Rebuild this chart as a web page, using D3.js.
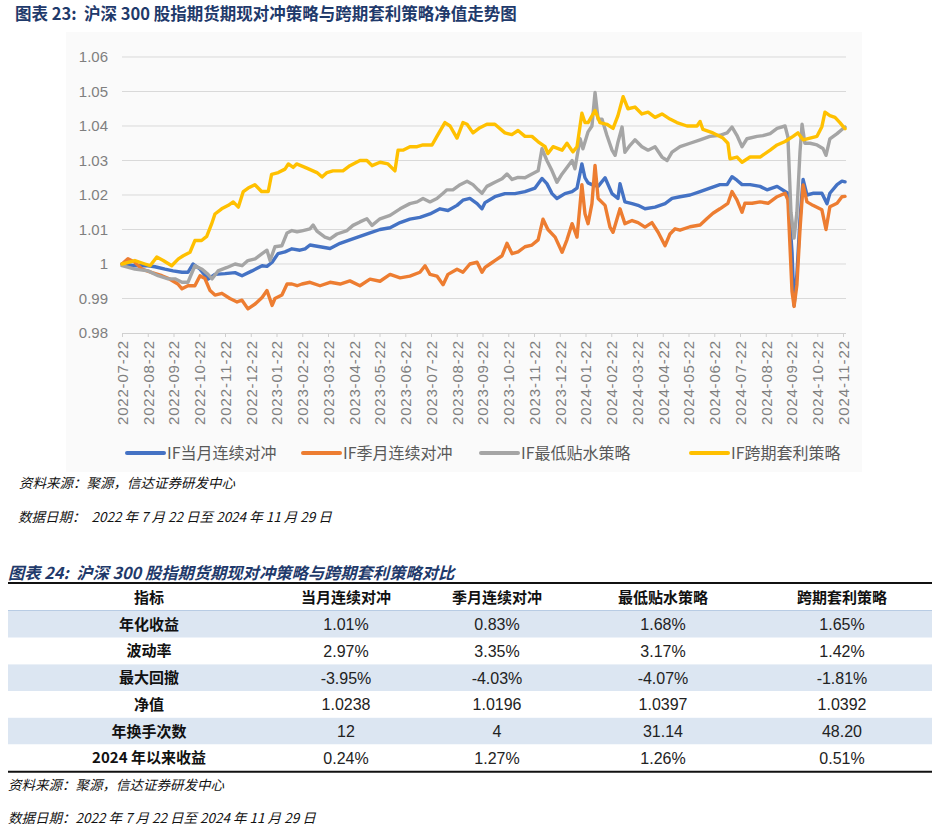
<!DOCTYPE html>
<html><head><meta charset="utf-8">
<script src="https://cdn.jsdelivr.net/npm/d3@7/dist/d3.min.js"></script>
<style>
html,body{margin:0;padding:0;background:#fff;}
svg{display:block;}
text{white-space:pre;}
</style></head>
<body>
<svg id="c" width="945" height="829"></svg>
<script>
// ---------- DATA ----------
const xTickLabels = ["2022-07-22","2022-08-22","2022-09-22","2022-10-22","2022-11-22","2022-12-22",
 "2023-01-22","2023-02-22","2023-03-22","2023-04-22","2023-05-22","2023-06-22","2023-07-22","2023-08-22",
 "2023-09-22","2023-10-22","2023-11-22","2023-12-22","2024-01-22","2024-02-22","2024-03-22","2024-04-22",
 "2024-05-22","2024-06-22","2024-07-22","2024-08-22","2024-09-22","2024-10-22","2024-11-22"];
const yTickValues = [0.98,0.99,1.00,1.01,1.02,1.03,1.04,1.05,1.06];
const yTickLabels = ["0.98","0.99","1","1.01","1.02","1.03","1.04","1.05","1.06"];
const seriesNames = ["IF当月连续对冲","IF季月连续对冲","IF最低贴水策略","IF跨期套利策略"];
const seriesColors = ["#4472C4","#ED7D31","#A5A5A5","#FFC000"];

// [months since 2022-07-22, net value]
const monthlyHedge = [[0,1.000],[0.50,0.9995],[1.01,0.9995],[1.28,0.9992],[1.67,0.9985],[1.98,0.998],[2.33,0.9976],[2.56,0.9976],[2.76,1.000],[3.03,0.9985],[3.34,0.9956],[3.61,0.997],[4.00,0.9972],[4.39,0.9975],[4.66,0.9966],[5.05,0.998],[5.44,0.9995],[5.63,0.9993],[5.83,1.0005],[6.06,1.003],[6.33,1.0035],[6.60,1.0044],[6.91,1.004],[7.11,1.0044],[7.30,1.0055],[7.69,1.005],[8.08,1.0045],[8.47,1.006],[8.85,1.007],[9.24,1.008],[9.63,1.009],[10.02,1.010],[10.41,1.0105],[10.80,1.012],[11.18,1.013],[11.57,1.0135],[11.96,1.0145],[12.35,1.016],[12.66,1.0155],[13.01,1.017],[13.24,1.0185],[13.51,1.019],[13.79,1.0175],[13.98,1.016],[14.10,1.0178],[14.48,1.0195],[14.87,1.0204],[15.26,1.0204],[15.65,1.021],[16.04,1.022],[16.31,1.0248],[16.50,1.0233],[16.70,1.0204],[16.89,1.019],[17.20,1.0204],[17.48,1.021],[17.67,1.022],[17.86,1.029],[17.98,1.025],[18.10,1.0235],[18.25,1.023],[18.49,1.0225],[18.76,1.025],[19.03,1.0204],[19.26,1.019],[19.34,1.0233],[19.53,1.018],[19.81,1.0175],[20.04,1.017],[20.31,1.016],[20.70,1.0165],[21.09,1.0175],[21.36,1.019],[21.67,1.0195],[22.06,1.020],[22.45,1.021],[22.83,1.022],[23.22,1.023],[23.50,1.023],[23.69,1.0253],[23.88,1.0243],[24.08,1.023],[24.39,1.023],[24.78,1.0225],[25.05,1.0215],[25.44,1.0225],[25.75,1.021],[25.86,1.0205],[26.02,1.0035],[26.10,0.988],[26.21,0.997],[26.33,1.013],[26.45,1.0245],[26.60,1.020],[26.83,1.0205],[27.18,1.0205],[27.38,1.0175],[27.49,1.0205],[27.77,1.023],[27.96,1.024],[28.08,1.0238]];

const quarterlyHedge = [[0,1.000],[0.23,1.0015],[0.50,1.0005],[0.78,0.9985],[1.17,0.9975],[1.55,0.9966],[1.86,0.9956],[2.17,0.9942],[2.33,0.9928],[2.56,0.9937],[2.83,0.9937],[3.03,0.9966],[3.22,0.9958],[3.42,0.9923],[3.61,0.991],[3.88,0.9915],[4.19,0.990],[4.47,0.989],[4.66,0.9895],[4.89,0.987],[5.17,0.9884],[5.44,0.9903],[5.63,0.9923],[5.83,0.988],[5.94,0.990],[6.21,0.991],[6.41,0.9942],[6.60,0.9942],[6.80,0.9937],[6.99,0.9942],[7.30,0.9947],[7.69,0.9937],[8.08,0.9947],[8.47,0.9942],[8.85,0.9951],[9.24,0.9937],[9.63,0.9956],[10.02,0.995],[10.41,0.997],[10.80,0.996],[11.18,0.9965],[11.57,0.9976],[11.77,0.9995],[11.96,0.997],[12.23,0.9965],[12.47,0.994],[12.66,0.997],[13.01,0.9985],[13.24,0.9976],[13.51,1.000],[13.79,1.0005],[13.98,0.9976],[14.10,0.999],[14.29,1.000],[14.48,1.001],[14.76,1.0024],[14.95,1.006],[15.15,1.003],[15.38,1.0035],[15.65,1.005],[15.92,1.0055],[16.16,1.007],[16.35,1.013],[16.54,1.010],[16.82,1.0078],[17.09,1.0034],[17.28,1.007],[17.48,1.0117],[17.67,1.0078],[17.86,1.023],[17.98,1.0146],[18.10,1.0117],[18.25,1.0175],[18.37,1.0286],[18.49,1.019],[18.76,1.017],[18.95,1.0107],[19.07,1.0092],[19.34,1.016],[19.53,1.0117],[19.81,1.0126],[20.04,1.012],[20.31,1.0107],[20.58,1.012],[20.82,1.0092],[21.09,1.0053],[21.28,1.0087],[21.48,1.0102],[21.67,1.0098],[22.06,1.0108],[22.45,1.0113],[22.72,1.0132],[22.95,1.0147],[23.22,1.016],[23.53,1.0176],[23.69,1.021],[23.88,1.0186],[24.08,1.015],[24.19,1.0176],[24.47,1.0176],[24.78,1.018],[25.09,1.0176],[25.44,1.0195],[25.75,1.0205],[25.86,1.0186],[26.02,0.992],[26.10,0.9877],[26.21,0.994],[26.33,1.010],[26.45,1.0229],[26.60,1.018],[26.83,1.017],[27.18,1.0157],[27.34,1.010],[27.49,1.0166],[27.77,1.0176],[27.96,1.0195],[28.08,1.0196]];

const minDiscount = [[0,0.9995],[0.50,0.9985],[1.01,0.998],[1.40,0.9966],[1.79,0.9957],[2.06,0.9957],[2.33,0.9947],[2.56,0.9947],[2.83,0.9995],[3.11,0.9985],[3.34,0.997],[3.50,0.9957],[3.73,0.998],[4.08,0.999],[4.39,1.000],[4.66,0.9995],[4.89,1.001],[5.17,1.0015],[5.44,1.003],[5.63,1.004],[5.75,1.001],[5.94,1.005],[6.21,1.0053],[6.41,1.009],[6.60,1.0097],[6.80,1.0093],[7.03,1.0097],[7.30,1.0102],[7.42,1.0113],[7.57,1.0095],[7.88,1.0078],[8.08,1.0073],[8.35,1.0087],[8.74,1.0097],[8.97,1.0112],[9.24,1.0122],[9.51,1.0131],[9.71,1.0112],[10.02,1.0131],[10.41,1.0141],[10.80,1.016],[11.18,1.0175],[11.46,1.018],[11.69,1.019],[11.96,1.018],[12.23,1.019],[12.47,1.0205],[12.62,1.0215],[12.85,1.0215],[13.13,1.023],[13.40,1.024],[13.63,1.023],[13.83,1.0215],[13.98,1.0205],[14.17,1.0225],[14.48,1.0237],[14.76,1.0247],[14.95,1.0261],[15.15,1.0245],[15.38,1.0251],[15.65,1.025],[15.92,1.0261],[16.16,1.027],[16.31,1.0334],[16.50,1.030],[16.70,1.027],[16.89,1.0237],[17.09,1.0261],[17.28,1.028],[17.48,1.030],[17.59,1.0276],[17.79,1.0363],[17.90,1.0334],[18.10,1.0383],[18.25,1.040],[18.37,1.0497],[18.49,1.042],[18.64,1.042],[18.83,1.0373],[19.03,1.033],[19.15,1.0315],[19.26,1.0353],[19.42,1.0397],[19.53,1.0324],[19.73,1.0344],[19.92,1.036],[20.19,1.034],[20.43,1.033],[20.70,1.034],[20.97,1.031],[21.17,1.030],[21.36,1.0324],[21.67,1.034],[22.06,1.035],[22.45,1.036],[22.83,1.037],[23.22,1.0373],[23.50,1.038],[23.69,1.0397],[23.88,1.0373],[24.08,1.034],[24.27,1.0363],[24.66,1.037],[24.89,1.0372],[25.17,1.0378],[25.44,1.0393],[25.75,1.040],[25.86,1.0368],[25.98,1.015],[26.10,1.0075],[26.21,1.015],[26.33,1.0325],[26.41,1.0405],[26.52,1.035],[26.72,1.035],[26.99,1.0345],[27.22,1.0335],[27.34,1.0315],[27.49,1.0363],[27.77,1.0378],[27.96,1.039],[28.08,1.0397]];

const calendarSpread = [[0,1.000],[0.50,1.001],[0.89,1.000],[1.09,0.9995],[1.35,1.002],[1.60,1.001],[1.93,0.9995],[2.19,1.0015],[2.38,1.0024],[2.64,1.0034],[2.83,1.0068],[3.09,1.0068],[3.29,1.008],[3.48,1.0116],[3.61,1.0145],[3.87,1.016],[4.13,1.017],[4.32,1.018],[4.52,1.0165],[4.71,1.021],[4.90,1.022],[5.16,1.023],[5.42,1.021],[5.68,1.021],[5.81,1.026],[6.07,1.0265],[6.33,1.0275],[6.46,1.029],[6.65,1.028],[6.78,1.029],[7.11,1.028],[7.57,1.0265],[7.77,1.0252],[7.96,1.0265],[8.19,1.027],[8.58,1.027],[8.85,1.0285],[9.24,1.030],[9.51,1.030],[9.71,1.0285],[10.02,1.0295],[10.33,1.029],[10.60,1.027],[10.72,1.033],[10.91,1.033],[11.18,1.034],[11.46,1.034],[11.69,1.0345],[12.04,1.0345],[12.23,1.037],[12.54,1.041],[12.74,1.040],[13.01,1.0365],[13.24,1.041],[13.40,1.0405],[13.63,1.038],[13.90,1.0395],[14.17,1.0405],[14.48,1.0405],[14.87,1.038],[15.14,1.0375],[15.38,1.0387],[15.65,1.037],[15.92,1.037],[16.15,1.0355],[16.43,1.034],[16.54,1.032],[16.74,1.034],[17.09,1.033],[17.28,1.035],[17.51,1.0325],[17.67,1.034],[17.86,1.0437],[17.98,1.041],[18.10,1.041],[18.37,1.0445],[18.56,1.041],[18.83,1.0405],[19.07,1.0393],[19.26,1.043],[19.46,1.0485],[19.65,1.045],[19.92,1.0455],[20.19,1.0435],[20.43,1.044],[20.70,1.0425],[20.97,1.0435],[21.28,1.042],[21.55,1.041],[21.94,1.040],[22.33,1.040],[22.45,1.0413],[22.56,1.039],[22.95,1.038],[23.34,1.0365],[23.53,1.035],[23.61,1.0305],[23.88,1.031],[24.08,1.0295],[24.39,1.031],[24.78,1.031],[25.17,1.033],[25.44,1.0345],[25.75,1.0355],[26.06,1.037],[26.25,1.038],[26.45,1.036],[26.72,1.0365],[26.99,1.037],[27.18,1.0398],[27.30,1.044],[27.49,1.043],[27.69,1.0425],[27.88,1.041],[28.08,1.0392]];

const tableHeader = ["指标","当月连续对冲","季月连续对冲","最低贴水策略","跨期套利策略"];
const tableRowLabels = ["年化收益","波动率","最大回撤","净值","年换手次数","2024 年以来收益"];
const tableValues = [
  ["1.01%","0.83%","1.68%","1.65%"],
  ["2.97%","3.35%","3.17%","1.42%"],
  ["-3.95%","-4.03%","-4.07%","-1.81%"],
  ["1.0238","1.0196","1.0397","1.0392"],
  ["12","4","31.14","48.20"],
  ["0.24%","1.27%","1.26%","0.51%"]
];

// ---------- DRAW ----------
const svg = d3.select("#c");
const NUM = "'Liberation Sans', Arial, 'Noto Sans CJK SC', sans-serif";
const CJK = "'Noto Sans CJK SC', 'Liberation Sans', sans-serif";
const navy = "#1F3A6B";

// faint chart-area background
svg.append("rect").attr("x",66).attr("y",32).attr("width",796).attr("height",440).attr("fill","#FAFAFA");

svg.append("text").attr("x",15).attr("y",20).attr("font-family",CJK).attr("font-weight",700)
  .attr("font-size",16.5).attr("fill",navy).text("图表 23:  沪深 300 股指期货期现对冲策略与跨期套利策略净值走势图");

const x = d3.scaleLinear().domain([0, xTickLabels.length-1]).range([122, 843]);
const y = d3.scaleLinear().domain([0.98, 1.06]).range([333, 57]);

// gridlines
svg.append("g").selectAll("line").data(yTickValues.slice(1)).join("line")
  .attr("x1",122).attr("x2",846).attr("y1",d=>y(d)).attr("y2",d=>y(d))
  .attr("stroke","#D9D9D9").attr("stroke-width",1);

// y axis labels
const yAxis = d3.axisLeft(y).tickValues(yTickValues).tickFormat((d,i)=>yTickLabels[i]).tickSize(0).tickPadding(14);
const ya = svg.append("g").attr("transform","translate(122,0)").call(yAxis);
ya.select(".domain").remove();
ya.selectAll("text").attr("font-family",NUM).attr("font-size",15).attr("fill","#7F7F7F");

// x axis
const xAxis = d3.axisBottom(x).tickValues(d3.range(xTickLabels.length)).tickFormat(i=>xTickLabels[i]).tickSizeInner(4).tickSizeOuter(0);
const xa = svg.append("g").attr("transform","translate(0,333)").call(xAxis);
xa.select(".domain").attr("d","M122,0.5H846").attr("stroke","#D0D0D0");
xa.selectAll(".tick line").attr("stroke","#D0D0D0");
xa.selectAll("text").attr("font-family",NUM).attr("font-size",15).attr("fill","#7F7F7F")
  .attr("text-anchor","end").attr("transform","translate(0,8) rotate(-90)")
  .attr("x",0).attr("y",0).attr("dy","0.36em")
  .attr("textLength",84).attr("lengthAdjust","spacing");

// lines
const line = d3.line().x(d=>x(d[0])).y(d=>y(d[1]));
const allSeries = [monthlyHedge, quarterlyHedge, minDiscount, calendarSpread];
svg.append("g").selectAll("path").data(allSeries).join("path")
  .attr("d",line).attr("fill","none").attr("stroke",(d,i)=>seriesColors[i])
  .attr("stroke-width",3.4).attr("stroke-linejoin","round").attr("stroke-linecap","round");

// legend
const legX = [127, 303, 481, 691];
const leg = svg.append("g").selectAll("g").data(seriesNames).join("g")
  .attr("transform",(d,i)=>`translate(${legX[i]},453)`);
leg.append("line").attr("x1",0).attr("x2",37).attr("y1",0).attr("y2",0)
  .attr("stroke",(d,i)=>seriesColors[i]).attr("stroke-width",4).attr("stroke-linecap","round");
leg.append("text").attr("x",40).attr("y",0).attr("dy","0.36em").attr("font-family",CJK)
  .attr("font-size",16).attr("fill","#595959").text(d=>d);

// chart notes
svg.append("text").attr("x",19).attr("y",488).attr("font-family",CJK).attr("font-style","italic")
  .attr("font-size",13.5).attr("fill","#111").text("资料来源：聚源，信达证券研发中心");
svg.append("text").attr("x",18).attr("y",522).attr("font-family",CJK).attr("font-style","italic")
  .attr("font-size",13.5).attr("fill","#111").text("数据日期：  2022 年 7 月 22 日至 2024 年 11 月 29 日");

// ---------- TABLE ----------
svg.append("text").attr("x",8).attr("y",579).attr("font-family",CJK).attr("font-weight",700)
  .attr("font-style","italic").attr("font-size",16.3).attr("fill",navy)
  .text("图表 24:  沪深 300 股指期货期现对冲策略与跨期套利策略对比");

const colX = [149, 346, 497, 663, 842];
const tblLeft = 8, tblRight = 932;
const headTop = 584, headBottom = 611, rowH = 26.7;
const rowTop = i => headBottom + i*rowH;

svg.append("g").selectAll("rect").data(tableRowLabels).join("rect")
  .attr("x",tblLeft).attr("width",tblRight-tblLeft)
  .attr("y",(d,i)=>rowTop(i)).attr("height",rowH)
  .attr("fill",(d,i)=> i%2===0 ? "#DCE6F2" : "#FFFFFF");

svg.append("line").attr("x1",tblLeft).attr("x2",tblRight).attr("y1",583).attr("y2",583)
  .attr("stroke","#111").attr("stroke-width",2);
svg.append("line").attr("x1",tblLeft).attr("x2",tblRight).attr("y1",headBottom-0.5).attr("y2",headBottom-0.5)
  .attr("stroke","#B8CCE4").attr("stroke-width",1);
svg.append("line").attr("x1",tblLeft).attr("x2",tblRight).attr("y1",rowTop(6)+0.5).attr("y2",rowTop(6)+0.5)
  .attr("stroke","#111").attr("stroke-width",2);

svg.append("g").selectAll("text").data(tableHeader).join("text")
  .attr("x",(d,i)=>colX[i]).attr("y",(headTop+headBottom)/2).attr("dy","0.36em")
  .attr("text-anchor","middle").attr("font-family",CJK).attr("font-weight",700)
  .attr("font-size",15).attr("fill","#111").text(d=>d);

const rows = svg.append("g").selectAll("g").data(tableRowLabels).join("g")
  .attr("transform",(d,i)=>`translate(0,${rowTop(i)+rowH/2})`);
rows.append("text").attr("x",colX[0]).attr("dy","0.36em").attr("text-anchor","middle")
  .attr("font-family",CJK).attr("font-weight",700).attr("font-size",15).attr("fill","#111").text(d=>d);
rows.each(function(d,i){
  d3.select(this).selectAll("text.v").data(tableValues[i]).join("text").attr("class","v")
    .attr("x",(v,j)=>colX[j+1]).attr("dy","0.36em").attr("text-anchor","middle")
    .attr("font-family",NUM).attr("font-size",16).attr("fill","#222").text(v=>v);
});

svg.append("text").attr("x",8).attr("y",790).attr("font-family",CJK).attr("font-style","italic")
  .attr("font-size",13.5).attr("fill","#111").text("资料来源：聚源，信达证券研发中心");
svg.append("text").attr("x",8).attr("y",823).attr("font-family",CJK).attr("font-style","italic")
  .attr("font-size",13.5).attr("fill","#111").text("数据日期：2022 年 7 月 22 日至 2024 年 11 月 29 日");
</script>
</body></html>
